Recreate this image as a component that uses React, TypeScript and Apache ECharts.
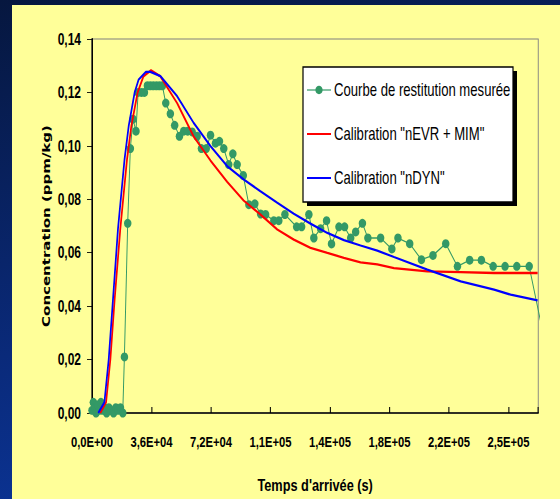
import React, { useEffect, useRef } from "react";
import * as echarts from "echarts";

// ---- data ----
const xTickStep = 36000;
const xMax = 270000;
const yMax = 0.14;
const yTickStep = 0.02;

const seriesNames = [
  "Courbe de restitution mesurée",
  'Calibration "nEVR + MIM"',
  'Calibration "nDYN"',
];

const measuredTime = [
  0, 800, 1600, 2400, 3400, 4400, 5400, 6400, 7600, 8800, 10200, 11600, 13000, 14400, 15800, 17200,
  18600, 19600, 21600, 23200, 24800, 26600, 27900, 29900, 31700, 33500, 35300, 37100, 39000, 40800,
  42600, 44600, 47400, 50000, 52900, 55500, 57900, 60600, 63600, 66200, 69100, 71700, 74700, 77100,
  79700, 82700, 85200, 87800, 91500, 94900, 98500, 102000, 105000, 110000, 113000, 116700, 123800,
  126800, 131200, 134200, 138300, 141900, 144900, 149400, 152800, 156500, 159500, 163600, 166900,
  174600, 181400, 185100, 192200, 199300, 206300, 214000, 221100, 228500, 235600, 242700, 249900,
  257000, 264500, 271600,
];
const measuredConc = [
  0.001, 0.004, 0.002, 0.0, 0.003, 0.001, 0.004, 0.001, 0.002, 0.0, 0.002, 0.001, 0.0, 0.002, 0.001, 0.002,
  0.0, 0.021, 0.071, 0.099, 0.11, 0.1055, 0.12, 0.12, 0.12, 0.1225, 0.1225, 0.1225, 0.1225, 0.1225,
  0.1225, 0.116, 0.112, 0.1077, 0.1036, 0.1055, 0.1055, 0.1052, 0.1036, 0.099, 0.099, 0.104, 0.101, 0.1017,
  0.099, 0.093, 0.097, 0.093, 0.0889, 0.078, 0.0783, 0.0745, 0.0743, 0.072, 0.072, 0.0743, 0.0697,
  0.0697, 0.0743, 0.0655, 0.069, 0.072, 0.0633, 0.0697, 0.0697, 0.0655, 0.0678, 0.071, 0.0655,
  0.0655, 0.0614, 0.0655, 0.0634, 0.0574, 0.059, 0.0634, 0.0549, 0.0572, 0.0572, 0.0549, 0.0549,
  0.0549, 0.0549, 0.0337,
];

const evrTime = [
  5000, 8500, 11100, 13700, 17100, 21200, 23800, 27600, 31100, 35700, 41400, 51500, 61500, 71700, 81800,
  91800, 101900, 112100, 122100, 132200, 142400, 152400, 162500, 172600, 182700, 202900, 223100, 243300,
  269600,
];
const evrConc = [
  0.0, 0.004, 0.02, 0.0425, 0.0687, 0.095, 0.1074, 0.12, 0.126, 0.1283, 0.126, 0.116, 0.1035, 0.0945,
  0.0865, 0.0795, 0.0743, 0.0687, 0.0649, 0.0618, 0.0599, 0.0581, 0.0564, 0.0556, 0.0542, 0.053, 0.0527,
  0.0524, 0.0524,
];

const dynTime = [
  3800, 7500, 10100, 12700, 15700, 19700, 22200, 25800, 28200, 32600, 35300, 41400, 51500, 61500, 71700,
  81800, 91800, 101900, 112100, 122100, 132200, 142400, 152400, 162500, 172600, 182700, 202900, 223100,
  243300, 253300, 269600,
];
const dynConc = [
  0.0, 0.004, 0.02, 0.0425, 0.0687, 0.095, 0.1074, 0.12, 0.1248, 0.1277, 0.1277, 0.1261, 0.1186, 0.1086,
  0.0999, 0.0924, 0.0874, 0.083, 0.0787, 0.0746, 0.0709, 0.0674, 0.0647, 0.0627, 0.0608, 0.0584, 0.0537,
  0.0493, 0.0462, 0.0443, 0.0422,
];

const GREEN = "#339966";
const SANS = '"Liberation Sans", Arial, sans-serif';
// the reference is horizontally condensed: the chart is drawn wider and squeezed with CSS
const S = 0.75;
const W = 560 / S;
const sx = (px: number) => px / S;

function fmtSci(v: number): string {
  if (Math.abs(v % xTickStep) > 1e-6) return "";
  const s = v.toExponential(1);
  const [mant, exp] = s.split("e");
  const e = parseInt(exp, 10);
  const sign = e < 0 ? "-" : "+";
  const ea = Math.abs(e);
  return mant.replace(".", ",") + "E" + sign + (ea < 10 ? "0" + ea : String(ea));
}

export default function App() {
  const ref = useRef<HTMLDivElement>(null);

  useEffect(() => {
    if (!ref.current) return;
    const chart = echarts.init(ref.current, null, { renderer: "svg" });

    const measured = measuredTime.map((t, i) =>
      i === measuredTime.length - 1
        ? { value: [t, measuredConc[i]], symbol: "none" }
        : { value: [t, measuredConc[i]] }
    );
    const evr = evrTime.map((t, i) => [t, evrConc[i]]);
    const dyn = dynTime.map((t, i) => [t, dynConc[i]]);

    const legendY = [90, 134, 178];
    const legendColors = [GREEN, "#FF0000", "#0000FF"];
    const legendGraphics: any[] = [
      {
        type: "rect",
        shape: { x: sx(307), y: 71, width: sx(210), height: 135 },
        style: { fill: "#000" },
        z: 10,
      },
      {
        type: "rect",
        shape: { x: sx(303), y: 67, width: sx(210), height: 135 },
        style: { fill: "#fff", stroke: "#000", lineWidth: 1.6 },
        z: 11,
      },
    ];
    seriesNames.forEach((name, i) => {
      legendGraphics.push({
        type: "line",
        shape: { x1: sx(307), y1: legendY[i], x2: sx(331), y2: legendY[i] },
        style: { stroke: legendColors[i], lineWidth: i === 0 ? 1.2 : 2 },
        z: 12,
      });
      if (i === 0) {
        legendGraphics.push({
          type: "ellipse",
          shape: { cx: sx(319), cy: legendY[i], rx: sx(3.6), ry: 4.2 },
          style: { fill: GREEN },
          z: 13,
        });
      }
      legendGraphics.push({
        type: "text",
        x: sx(334),
        y: legendY[i],
        style: {
          text: name,
          fill: "#000",
          font: `17.5px ${SANS}`,
          verticalAlign: "middle",
          align: "left",
        },
        z: 13,
      });
    });

    chart.setOption({
      animation: false,
      backgroundColor: "transparent",
      grid: {
        left: sx(92),
        top: 39,
        right: sx(22),
        bottom: 86,
        show: true,
        borderColor: "#808080",
        borderWidth: 1.2,
        backgroundColor: "transparent",
      },
      xAxis: {
        type: "value",
        min: 0,
        max: xMax,
        interval: xTickStep,
        name: "Temps d'arrivée (s)",
        nameLocation: "middle",
        nameGap: 63,
        nameMoveOverlap: false,
        nameTextStyle: { fontFamily: SANS, fontWeight: "bold", fontSize: 17, color: "#000" },
        axisLine: { show: true, lineStyle: { color: "#000", width: 1.5 } },
        axisTick: { show: true, inside: true, length: 6, lineStyle: { color: "#000", width: 1.4 } },
        axisLabel: {
          formatter: fmtSci,
          margin: 21,
          fontFamily: SANS,
          fontWeight: "bold",
          fontSize: 15,
          color: "#000",
        },
        splitLine: { show: false },
      },
      yAxis: {
        type: "value",
        min: 0,
        max: yMax,
        interval: yTickStep,
        name: "Concentration (ppm/kg)",
        nameLocation: "middle",
        nameRotate: 90,
        nameGap: sx(40),
        nameMoveOverlap: false,
        nameTextStyle: { fontFamily: "DejaVu Sans", fontWeight: "bold", fontSize: 15, color: "#000" },
        axisLine: { show: true, lineStyle: { color: "#000", width: 2 } },
        axisTick: { show: true, inside: false, length: sx(5), lineStyle: { color: "#000", width: 1 } },
        axisLabel: {
          formatter: (v: number) => v.toFixed(2).replace(".", ","),
          margin: sx(11),
          fontFamily: SANS,
          fontWeight: "bold",
          fontSize: 16,
          color: "#000",
        },
        splitLine: { show: false },
      },
      graphic: { elements: legendGraphics },
      series: [
        {
          name: seriesNames[0],
          type: "line",
          data: measured,
          symbol: "circle",
          symbolSize: [sx(7.5), 9],
          showSymbol: true,
          clip: false,
          lineStyle: { color: GREEN, width: 1.3 },
          itemStyle: { color: GREEN },
          z: 2,
        },
        {
          name: seriesNames[1],
          type: "line",
          data: evr,
          showSymbol: false,
          symbol: "none",
          lineStyle: { color: "#FF0000", width: 2.3 },
          itemStyle: { color: "#FF0000" },
          z: 3,
        },
        {
          name: seriesNames[2],
          type: "line",
          data: dyn,
          showSymbol: false,
          symbol: "none",
          lineStyle: { color: "#0000FF", width: 2.3 },
          itemStyle: { color: "#0000FF" },
          z: 4,
        },
      ],
    });

    return () => chart.dispose();
  }, []);

  return (
    <div
      style={{
        position: "fixed",
        left: 0,
        top: 0,
        width: 560,
        height: 499,
        background: "linear-gradient(165deg, #06173f 0%, #0a2a7a 55%, #0b3aa6 100%)",
        overflow: "hidden",
      }}
    >
      <div
        style={{ position: "absolute", left: 12, top: 5, width: 548, height: 494, background: "#FFFF99" }}
      />
      <div
        ref={ref}
        style={{
          position: "absolute",
          left: 0,
          top: 0,
          width: W,
          height: 499,
          transform: `scaleX(${S})`,
          transformOrigin: "0 0",
        }}
      />
    </div>
  );
}
